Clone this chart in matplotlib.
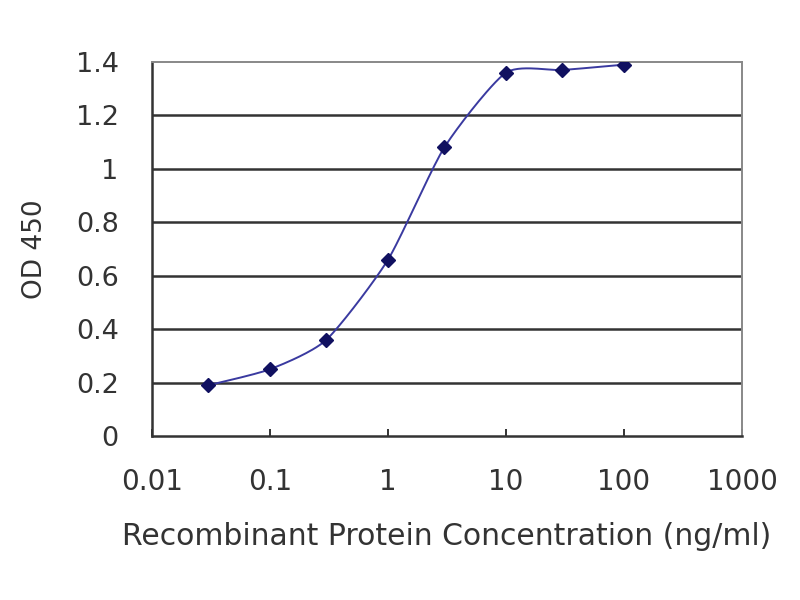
import matplotlib
matplotlib.use('Agg')
import matplotlib.pyplot as plt
import numpy as np

plt.rcParams['font.family'] = ['DejaVu Sans']

# concentration (ng/ml) and OD 450 readings
conc = [0.03, 0.1, 0.3, 1, 3, 10, 30, 100]
od = [0.19, 0.25, 0.36, 0.66, 1.08, 1.36, 1.37, 1.39]
yticks = [0, 0.2, 0.4, 0.6, 0.8, 1, 1.2, 1.4]
xticks = [0.01, 0.1, 1, 10, 100, 1000]
xticklabels = ['0.01', '0.1', '1', '10', '100', '1000']


def smooth(xs, ys, n=30, tension=0.35):
    # cardinal spline through the points in log-x space (like a smoothed line)
    p = np.column_stack([np.log10(xs), ys])
    ext = np.vstack([p[0], p, p[-1]])
    out = []
    for i in range(1, len(ext) - 2):
        p0, p1, p2, p3 = ext[i - 1], ext[i], ext[i + 1], ext[i + 2]
        m1 = (1 - tension) * (p2 - p0) / 2
        m2 = (1 - tension) * (p3 - p1) / 2
        t = np.linspace(0, 1, n)[:, None]
        h00 = 2 * t ** 3 - 3 * t ** 2 + 1
        h10 = t ** 3 - 2 * t ** 2 + t
        h01 = -2 * t ** 3 + 3 * t ** 2
        h11 = t ** 3 - t ** 2
        out.append(h00 * p1 + h10 * m1 + h01 * p2 + h11 * m2)
    out = np.vstack(out)
    return 10 ** out[:, 0], out[:, 1]


fig = plt.figure(figsize=(8, 6), dpi=100)
ax = fig.add_axes([0.19, 0.2733, 0.7375, 0.6234])

sx, sy = smooth(conc, od)
ax.plot(sx, sy, color='#3a3aa0', lw=1.4, zorder=3)
ax.plot(conc, od, ls='none', marker='D', ms=7.5, color='#101060', zorder=4)

ax.set_xscale('log')
ax.set_xlim(0.01, 1000)
ax.set_ylim(0, 1.4)
ax.set_xticks(xticks)
ax.set_xticklabels(xticklabels)
ax.minorticks_off()
ax.set_yticks(yticks)
ax.set_yticklabels(['0', '0.2', '0.4', '0.6', '0.8', '1', '1.2', '1.4'])

for v in yticks[1:-1]:
    ax.axhline(v, color='#333333', lw=1.8, zorder=1)

for s in ['left', 'bottom']:
    ax.spines[s].set_color('#333333')
    ax.spines[s].set_linewidth(1.8)
for s in ['top', 'right']:
    ax.spines[s].set_color('#888888')
    ax.spines[s].set_linewidth(1.4)

ax.tick_params(axis='x', direction='in', length=5, width=1.4, colors='#333333',
               labelsize=20, labelcolor='#333333', pad=23)
ax.tick_params(axis='y', length=0, labelsize=19.5, labelcolor='#333333', pad=24)

ax.set_xlabel('Recombinant Protein Concentration (ng/ml)', fontsize=21.5,
              color='#333333', labelpad=19)
ax.set_ylabel('OD 450', fontsize=19, color='#333333', labelpad=20)

fig.savefig('out.png', dpi=100)
